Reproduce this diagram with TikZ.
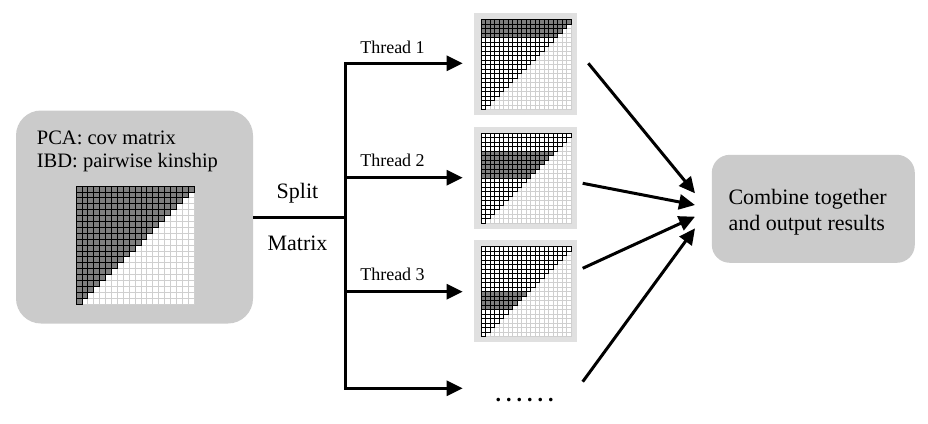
\documentclass[tikz,border=0pt]{standalone}
\usepackage{fontspec}
\setmainfont{Liberation Serif}
\usetikzlibrary{arrows.meta}
\definecolor{boxgray}{HTML}{CBCBCB}
\definecolor{bggray}{HTML}{E0E0E0}
\definecolor{darkcell}{HTML}{7F7F7F}
\definecolor{lightline}{HTML}{CFCFCF}

% #1 X, #2 Y (top-left), #3 cell size, #4 first dark row, #5 last dark row, #6 line width
\newcommand{\cellgrid}[6]{%
  \foreach \r in {0,...,19}{%
    \foreach \c in {0,...,19}{%
      \pgfmathtruncatemacro{\cellsum}{\r+\c}%
      \ifnum\cellsum>19
        \draw[lightline, line width=#6, fill=white] ({#1+\c*#3},{#2+\r*#3}) rectangle ++(#3,#3);
      \fi
    }%
  }%
  \foreach \r in {0,...,19}{%
    \foreach \c in {0,...,19}{%
      \pgfmathtruncatemacro{\cellsum}{\r+\c}%
      \ifnum\cellsum<20
        \ifnum\r<#4 \def\cellfc{white}\else\ifnum\r>#5 \def\cellfc{white}\else\def\cellfc{darkcell}\fi\fi
        \draw[black, line width=#6, fill=\cellfc] ({#1+\c*#3},{#2+\r*#3}) rectangle ++(#3,#3);
      \fi
    }%
  }%
}

\tikzset{
  roundbox/.style={fill=boxgray, draw=none, inner sep=0pt},
  bgsq/.style={fill=bggray, draw=none, inner sep=0pt, minimum width=103pt, minimum height=102pt},
  conn/.style={line width=3pt, line join=miter},
  arr/.style={line width=3pt, line join=miter, -{Triangle[length=16pt,width=15pt]}},
  lbl/.style={inner sep=0pt, anchor=base},
  txt/.style={inner sep=0pt, anchor=base west},
}

\begin{document}
\begin{tikzpicture}[x=1pt, y=-1pt]
\useasboundingbox (0,0) rectangle (928,423);

% left box
\node[roundbox, rounded corners=25pt, minimum width=237pt, minimum height=213pt] (L) at (134.5,217) {};
\node[txt, font=\fontsize{20.5}{24}\selectfont] (pca) at (36.7,144) {PCA: cov matrix};
\node[txt, font=\fontsize{20.5}{24}\selectfont] (ibd) at (36.7,167) {IBD: pairwise kinship};
\cellgrid{76}{186}{5.9}{0}{19}{0.8pt}

% thread squares
\node[bgsq] (t1) at (525.5,64) {};
\node[bgsq] (t2) at (525.5,177.5) {};
\node[bgsq] (t3) at (525.5,291) {};
\cellgrid{481}{19.5}{4.5}{0}{3}{0.7pt}
\cellgrid{481}{133}{4.5}{4}{9}{0.7pt}
\cellgrid{481}{246.5}{4.5}{10}{13}{0.7pt}

% split
\coordinate (split) at (345,217.7);
\coordinate (a1) at (462.7,63.3);
\coordinate (a2) at (462.7,177.7);
\coordinate (a3) at (462.7,291.7);
\coordinate (a4) at (462.7,388.3);
\draw[conn] (L.east |- split) -- (split);
\draw[arr] (split) |- (a1);
\draw[arr] (split) |- (a2);
\draw[arr] (split) |- (a3);
\draw[arr] (split) |- (a4);

\node[lbl, font=\fontsize{22}{26}\selectfont] (splitlbl) at (297.5,198.3) {Split};
\node[lbl, font=\fontsize{22}{26}\selectfont] (matlbl) at (297.5,250) {Matrix};
\node[lbl, font=\fontsize{18}{22}\selectfont] (th1) at (392.5,53.3) {Thread 1};
\node[lbl, font=\fontsize{18}{22}\selectfont] (th2) at (392.5,166.7) {Thread 2};
\node[lbl, font=\fontsize{18}{22}\selectfont] (th3) at (392.5,280.7) {Thread 3};

% dots
\node[lbl, font=\fontsize{22}{26}\selectfont\bfseries] (dots) at (524.7,401) {.\kern5pt.\kern5pt.\kern5pt.\kern5pt.\kern5pt.};

% combine box
\node[roundbox, rounded corners=18pt, minimum width=203pt, minimum height=108pt] (C) at (813.3,208.8) {};
\node[txt, font=\fontsize{22}{26}\selectfont] (c1) at (728.3,204) {Combine together};
\node[txt, font=\fontsize{22}{26}\selectfont] (c2) at (728.3,230) {and output results};

% converging arrows
\coordinate (s1) at (588.3,63.3);
\coordinate (s2) at (582.7,183.3);
\coordinate (s3) at (582.7,268.3);
\coordinate (s4) at (582.7,381.7);
\coordinate (e1) at (695,193.3);
\coordinate (e2) at (695,205);
\coordinate (e3) at (695,216.7);
\coordinate (e4) at (695,228.3);
\draw[arr] (s1) -- (e1);
\draw[arr] (s2) -- (e2);
\draw[arr] (s3) -- (e3);
\draw[arr] (s4) -- (e4);
\end{tikzpicture}
\end{document}
